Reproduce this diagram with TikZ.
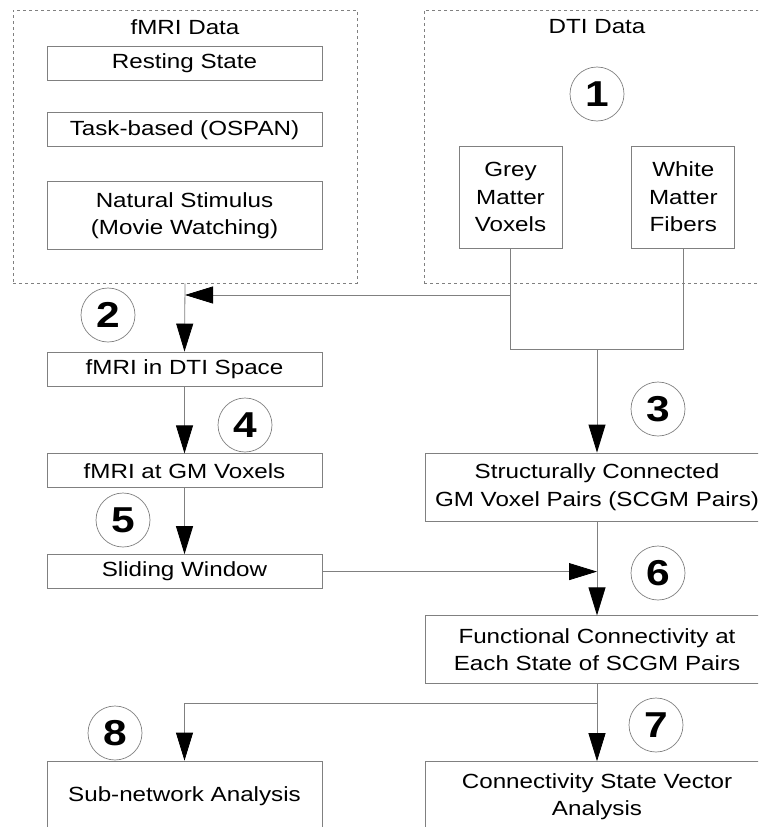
\documentclass[tikz,border=0pt]{standalone}
\usepackage{fontspec}
\setmainfont{Liberation Sans}[FakeStretch=1.18]
\usetikzlibrary{positioning,arrows.meta}

\begin{document}
\begin{tikzpicture}[
  x=1pt, y=-1pt,
  font=\fontsize{20.5}{27.5}\selectfont,
  stepbox/.style={draw=gray, line width=0.8pt, rectangle, minimum width=275pt, minimum height=34pt, inner sep=2pt, align=center},
  widebox/.style={stepbox, minimum width=344pt, minimum height=68pt},
  group/.style={draw=gray, dashed, line width=0.7pt, rectangle, minimum width=344pt, minimum height=273pt},
  num/.style={draw=gray, line width=0.7pt, circle, minimum size=54pt, inner sep=0pt, font=\fontsize{36}{36}\selectfont\bfseries},
  line/.style={draw=gray, line width=0.8pt},
  arr/.style={line, -{Triangle[length=28pt, width=17pt, color=black]}},
]
  \useasboundingbox (0,0) rectangle (758,827);
  \clip (0,0) rectangle (758,827);

  % fMRI data group
  \node[group] (fmri) at (185,146.5) {};
  \node (fmrit) at (185,27) {fMRI Data};
  \node[stepbox] (rest) at (184.5,63) {Resting State};
  \node[stepbox, below=32pt of rest] (task) {Task-based (OSPAN)};
  \node[stepbox, minimum height=68pt, below=34pt of task] (nat) {Natural Stimulus\\(Movie Watching)};

  % DTI data group
  \node[group, minimum width=346pt] (dti) at (597,146.5) {};
  \node (dtit) at (597,27) {DTI Data};
  \node[num] (n1) at (597,94) {1};
  \node[stepbox, minimum width=103pt, minimum height=102pt] (grey) at (510.5,197) {Grey\\Matter\\Voxels};
  \node[stepbox, minimum width=103pt, minimum height=102pt, right=69pt of grey] (white) {White\\Matter\\Fibers};

  % left column
  \node[stepbox] (reg) at (184.5,369) {fMRI in DTI Space};
  \node[stepbox, below=67pt of reg] (gmv) {fMRI at GM Voxels};
  \node[stepbox, below=66pt of gmv] (slide) {Sliding Window};
  \node[stepbox, minimum height=70pt] (sub) at (184.5,796) {Sub-network Analysis};

  % right column
  \node[widebox] (scgm) at (597,487) {Structurally Connected\\GM Voxel Pairs (SCGM Pairs)};
  \node[widebox, below=94pt of scgm] (func) {Functional Connectivity at\\Each State of SCGM Pairs};
  \node[widebox, minimum height=70pt, below=77pt of func] (csv) {Connectivity State Vector\\Analysis};

  % step numbers
  \node[num] (n2) at (108,315) {2};
  \node[num] (n3) at (658,409) {3};
  \node[num] (n4) at (245,425) {4};
  \node[num] (n5) at (123,520) {5};
  \node[num] (n6) at (658,573) {6};
  \node[num] (n7) at (656,725) {7};
  \node[num] (n8) at (115,733) {8};

  % connectors
  \coordinate (jn) at (597,349);
  \coordinate (tap) at (grey.south |- 0,295);
  \coordinate[below=19pt of func.south] (split);
  \draw[line] (grey.south) |- (white.south |- jn) -- (white.south);
  \draw[arr] (jn) -- (scgm.north);
  \draw[arr] (tap) -- (tap -| fmri.south);
  \draw[arr] (fmri.south) -- (reg.north);
  \draw[arr] (reg.south) -- (gmv.north);
  \draw[arr] (gmv.south) -- (slide.north);
  \draw[arr] (slide.east) -- (slide.east -| func.north);
  \draw[arr] (scgm.south) -- (func.north);
  \draw[arr] (func.south) -- (csv.north);
  \draw[arr] (split) -| (sub.north);
\end{tikzpicture}
\end{document}
